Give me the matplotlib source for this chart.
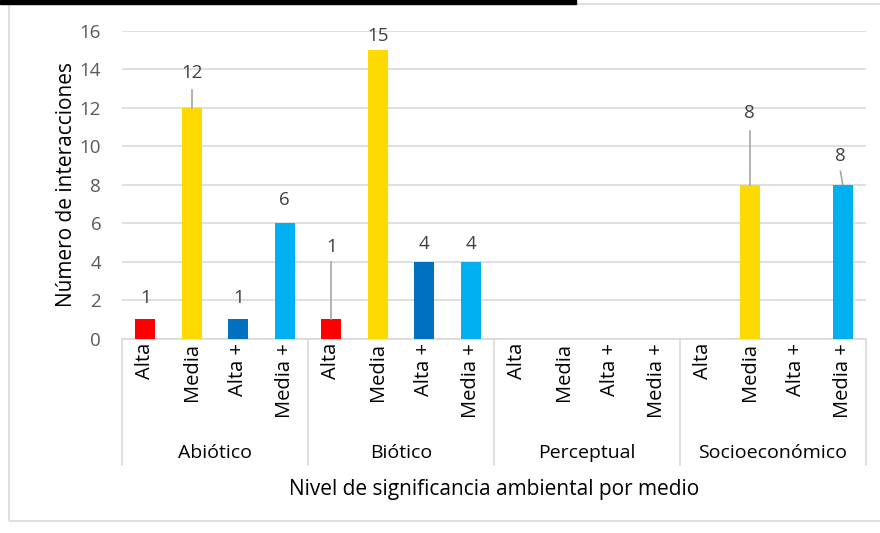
import matplotlib
matplotlib.use("Agg")
import matplotlib.pyplot as plt
from matplotlib.patches import Rectangle
from matplotlib.transforms import blended_transform_factory

# conteo de interacciones por medio y nivel de significancia
grupos = ["Abiótico", "Biótico", "Perceptual", "Socioeconómico"]
niveles = ["Alta", "Media", "Alta +", "Media +"]
abiotico = [1, 12, 1, 6]
biotico = [1, 15, 4, 4]
perceptual = [0, 0, 0, 0]
socioeconomico = [0, 8, 0, 8]
colores = ["#FF0000", "#FFDA00", "#0070C0", "#00B0F0"]

valores = abiotico + biotico + perceptual + socioeconomico
n = len(niveles)
x = list(range(len(valores)))
col = colores * len(grupos)

W, H = 880, 533
fig = plt.figure(figsize=(W / 100, H / 100), dpi=100)
fp = lambda py: 1 - py / H  # pixel desde arriba -> fraccion de figura

# area de grafico
ax = fig.add_axes([122 / W, fp(338.7), 744 / W, (338.7 - 30.7) / H])
ax.bar(x, valores, width=0.42, color=col, zorder=3)
ax.set_xlim(-0.5, len(valores) - 0.5)
ax.set_ylim(0, 16)
ax.set_yticks(range(0, 17, 2))
ax.yaxis.grid(True, color="#D9D9D9", lw=1.2, zorder=0)
ax.set_xticks([])
for s in ["top", "right", "left"]:
    ax.spines[s].set_visible(False)
ax.spines["bottom"].set_color("#D9D9D9")
ax.spines["bottom"].set_linewidth(1.2)
ax.tick_params(axis="y", length=0, pad=15, labelsize=13.5, labelcolor="#595959")
for t in ax.get_yticklabels():
    t.set_fontfamily("Open Sans")
ax.set_ylabel("Número de interacciones", fontsize=15, fontfamily="Open Sans",
              labelpad=2)

# etiquetas de datos (altura del centro del texto) y lineas guia
pos_etiqueta = {0: 2.1, 1: 13.8, 2: 2.1, 3: 7.2,
                4: 4.75, 5: 15.7, 6: 4.9, 7: 4.9,
                13: 11.7, 15: 9.5}
guias = {1: 12.9, 4: 4.0, 13: 10.8, 15: 8.7}
for i, v in enumerate(valores):
    if v == 0:
        continue
    xl = i - 0.05 if i == 15 else i
    ax.text(xl, pos_etiqueta[i], str(v), ha="center", va="center",
            fontsize=13.5, color="#404040", fontfamily="Open Sans", zorder=4)
    if i in guias:
        ax.plot([i, xl], [v, guias[i]], color="#A6A6A6", lw=1.2, zorder=4)

# eje de categorias en dos niveles
tr = blended_transform_factory(ax.transData, fig.transFigure)
for i in x:
    ax.text(i, fp(343), niveles[i % n], rotation=90, ha="center", va="top",
            fontsize=14.5, fontfamily="Open Sans", transform=tr)
for g in range(len(grupos) + 1):
    xs = g * n - 0.5
    ax.plot([xs, xs], [fp(338.7), fp(465)], color="#D9D9D9", lw=1.2,
            transform=tr, clip_on=False)
for g, nombre in enumerate(grupos):
    ax.text(g * n + (n - 1) / 2, fp(453), nombre, ha="center", va="center",
            fontsize=14, fontfamily="Open Sans", transform=tr)

fig.text((122 + 866) / 2 / W, fp(490), "Nivel de significancia ambiental por medio",
         ha="center", va="center", fontsize=15, fontfamily="Open Sans")

# borde del area del grafico y franja superior
fig.patches.append(Rectangle((9 / W, fp(521)), (W + 10) / W, 517 / H,
                             transform=fig.transFigure, fill=False,
                             edgecolor="#D9D9D9", lw=1.2))
fig.patches.append(Rectangle((0, fp(4)), 576 / W, 4 / H, transform=fig.transFigure,
                             color="black"))

fig.savefig("out.png", dpi=100)
